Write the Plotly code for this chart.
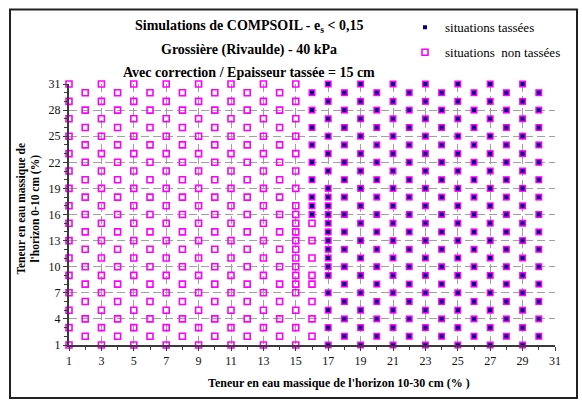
import plotly.graph_objects as go

# Simulation levels (water content, %) used on the two axes
odd_levels = [1, 3, 5, 7, 9, 11, 13, 15, 17, 19, 21, 23, 25, 27, 29, 31]
even_levels = [2, 4, 6, 8, 10, 12, 14, 16, 18, 20, 22, 24, 26, 28, 30]

# Columns of the base grid (10-30 cm water content)
non_odd_cols = [1, 3, 5, 7, 9, 11, 13, 15]
non_even_cols = [2, 4, 6, 8, 10, 12, 14]
tass_odd_cols = [17, 19, 21, 23, 25, 27, 29]
tass_even_cols = [18, 20, 22, 24, 26, 28, 30]

# Column 16: split between both outcomes
col16_non_y = [2, 4, 6, 8, 9, 11, 13, 15]
col16_tass_y = [16, 17, 18, 20, 22, 24, 26, 28, 30]
# Refined points in the transition zone
col15_extra_non_y = [8, 10, 12, 14, 16]
col17_extra_tass_y = [10, 12, 14, 16, 18]

x_tass, y_tass, x_non, y_non = [], [], [], []
for c in non_odd_cols:
    x_non += [c] * len(odd_levels); y_non += odd_levels
for c in non_even_cols:
    x_non += [c] * len(even_levels); y_non += even_levels
for c in tass_odd_cols:
    x_tass += [c] * len(odd_levels); y_tass += odd_levels
for c in tass_even_cols:
    x_tass += [c] * len(even_levels); y_tass += even_levels
x_non += [16] * len(col16_non_y); y_non += col16_non_y
x_tass += [16] * len(col16_tass_y); y_tass += col16_tass_y
x_non += [15] * len(col15_extra_non_y); y_non += col15_extra_non_y
x_tass += [17] * len(col17_extra_tass_y); y_tass += col17_extra_tass_y

W, H = 582, 403
L, R, T, B = 69, 555, 79, 345
PINK = "#FF00FF"
NAVY = "#000080"
SERIF = "Liberation Serif, Times New Roman, serif"


def px(xp):
    return (xp - L) / (R - L)


def py(yp):
    return (B - yp) / (B - T)


fig = go.Figure()
# outline squares under the compacted points
fig.add_trace(go.Scatter(
    x=x_tass, y=y_tass, mode="markers", showlegend=False, hoverinfo="skip",
    cliponaxis=False,
    marker=dict(symbol="square", size=7, color=PINK, line=dict(width=0)),
))
fig.add_trace(go.Scatter(
    x=x_tass, y=y_tass, mode="markers", name="situations tassées",
    legendgroup="a", cliponaxis=False,
    marker=dict(symbol="square", size=4, color=NAVY, line=dict(width=0)),
))
fig.add_trace(go.Scatter(
    x=x_non, y=y_non, mode="markers", name="situations  non tassées",
    legendgroup="b", cliponaxis=False,
    marker=dict(symbol="square-open", size=6, color=PINK,
                line=dict(width=1.6, color=PINK)),
))

axis_common = dict(
    showline=True, linecolor="#3a3a3a", linewidth=2,
    showgrid=True, gridcolor="#a0a0a0", gridwidth=1, griddash="8px,4px",
    zeroline=False, ticks="outside", ticklen=4, tickcolor="#3a3a3a",
    tickfont=dict(family=SERIF, size=12, color="#111"),
    minor=dict(ticks="outside", ticklen=3, tickcolor="#3a3a3a", dtick=1,
               showgrid=False),
)
fig.update_xaxes(range=[1, 31], tick0=1, dtick=2, **axis_common)
fig.update_yaxes(range=[1, 31], tick0=1, dtick=3, **axis_common)

fig.update_layout(
    width=W, height=H,
    margin=dict(l=L, r=W - R, t=T, b=H - B),
    paper_bgcolor="white", plot_bgcolor="white",
    font=dict(family=SERIF, color="black"),
    legend=dict(
        x=px(405), y=py(6), xanchor="left", yanchor="top",
        font=dict(family=SERIF, size=13, color="black"),
        bgcolor="rgba(0,0,0,0)", tracegroupgap=5, traceorder="grouped",
        itemwidth=30,
    ),
    shapes=[dict(type="rect", xref="paper", yref="paper",
                 x0=px(10), x1=px(577), y0=py(399), y1=py(3),
                 line=dict(color="#222", width=2), layer="below")],
)

titles = [
    ("<b>Simulations de COMPSOIL - e<sub>s</sub> &lt; 0,15</b>", 20),
    ("<b>Grossière (Rivaulde) - 40 kPa</b>", 44),
    ("<b>Avec correction / Epaisseur tassée = 15 cm</b>", 67),
]
for text, yc in titles:
    fig.add_annotation(text=text, x=px(249), y=py(yc), xref="paper", yref="paper",
                       xanchor="center", yanchor="middle", showarrow=False,
                       font=dict(family=SERIF, size=14, color="black"))

fig.add_annotation(text="<b>Teneur en eau massique de l'horizon 10-30 cm (% )</b>",
                   x=px(339), y=py(384), xref="paper", yref="paper",
                   xanchor="center", yanchor="middle", showarrow=False,
                   font=dict(family=SERIF, size=12, color="black"))

# two-line vertical axis title, one annotation per line
for text, xc in [("<b>Teneur en eau massique de</b>", 22),
                 ("<b>l'horizon 0-10 cm (%)</b>", 36)]:
    fig.add_annotation(text=text, x=px(xc), y=py(206), xref="paper", yref="paper",
                       xanchor="center", yanchor="middle", showarrow=False,
                       textangle=-90,
                       font=dict(family=SERIF, size=11.5, color="black"))

fig.write_html("out.html")
